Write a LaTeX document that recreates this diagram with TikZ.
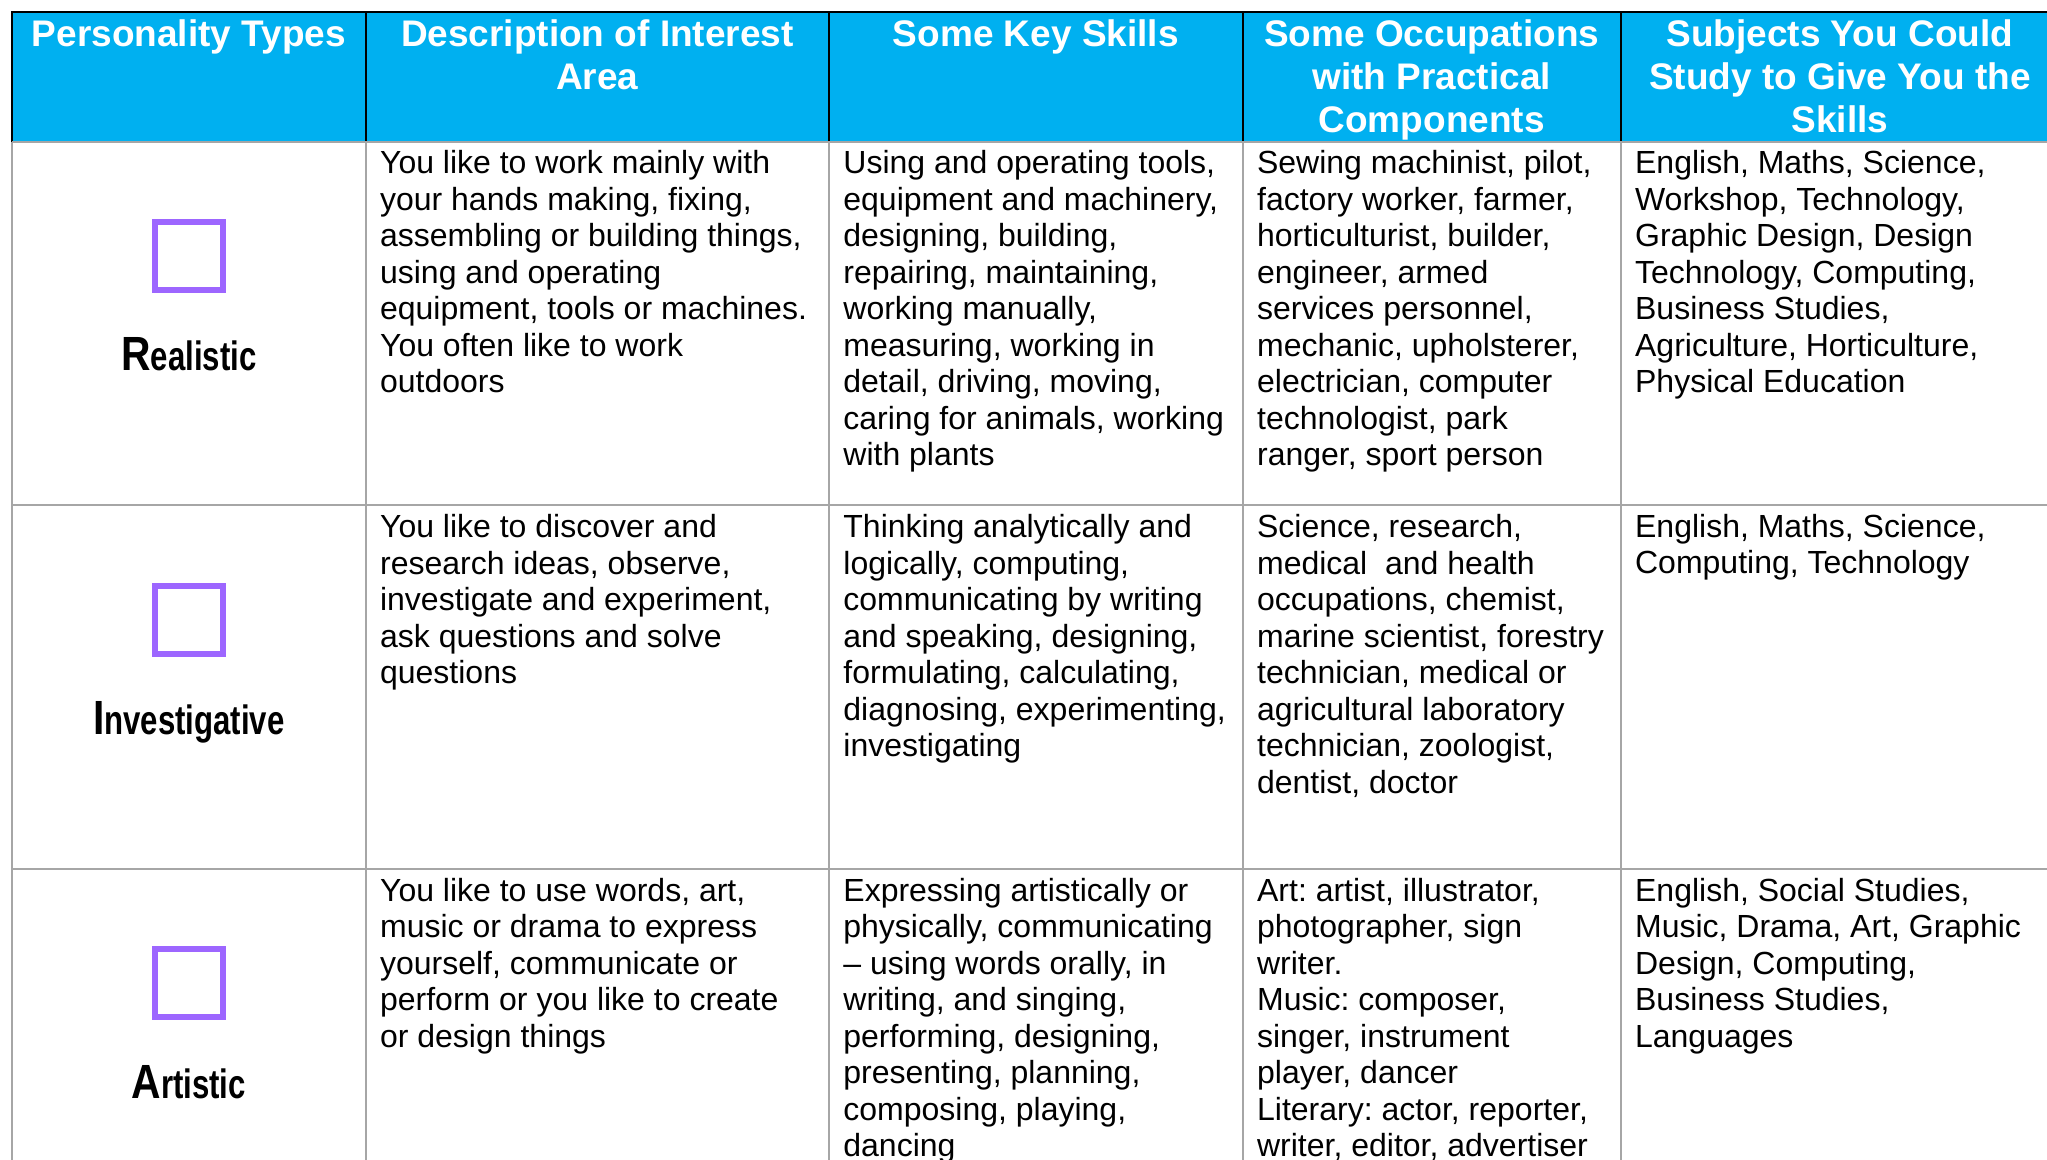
\documentclass[tikz,border=0pt]{standalone}
\usepackage{fontspec}
\usepackage{graphicx}
\setmainfont{Liberation Sans}
\frenchspacing

\definecolor{headblue}{RGB}{0,176,240}
\definecolor{boxpurple}{RGB}{157,102,255}
\definecolor{rulegray}{RGB}{166,166,166}

% struts fixing the first baseline of a cell
\newcommand{\hstrut}{\rule{0pt}{14.8pt}}
\newcommand{\bstrut}{\rule{0pt}{12.8pt}}
% big first letter of a personality type
\newcommand{\bigfirst}[2]{\bfseries\scalebox{0.85}[1]{\fontsize{24}{28}\selectfont #1}\scalebox{0.76}[1]{\fontsize{20.5}{24}\selectfont #2}}

\tikzset{
    headtext/.style={font=\bfseries\fontsize{18.5}{21.5}\selectfont, text=white, align=center, anchor=north, inner sep=0pt},
    celltext/.style={font=\fontsize{16}{18.25}\selectfont, align=left, anchor=north west, inner sep=0pt},
    typelabel/.style={anchor=base, inner sep=0pt},
    tickbox/.style={draw=boxpurple, line width=3pt, minimum width=34pt, minimum height=34pt, inner sep=0pt},
    headrule/.style={black, line width=1pt},
    bodyrule/.style={rulegray, line width=1pt}
}

\begin{document}
\begin{tikzpicture}[x=0.5pt,y=-0.5pt]
    % Page frame (pixels of the reference)
    \useasboundingbox (0,0) rectangle (2047,1160);
    \clip (0,0) rectangle (2047,1160);

    % Define column and row positions
    \def\colA{12} \def\colB{365.7} \def\colC{829} \def\colD{1242.7} \def\colE{1620.7} \def\colF{2059}
    \def\rowA{12} \def\rowB{141.7} \def\rowC{505.5} \def\rowD{869}

    % Header band
    \fill[headblue] (\colA,\rowA) rectangle (\colF,\rowB);
    \draw[headrule] (\colA,\rowB) -- (\colA,\rowA) -- (\colF,\rowA);
    \foreach \x in {\colB,\colC,\colD,\colE}
        \draw[headrule] (\x,\rowA) -- (\x,\rowB);

    % Body grid
    \foreach \x in {\colA,\colB,\colC,\colD,\colE}
        \draw[bodyrule] (\x,\rowB) -- (\x,1170);
    \foreach \y in {\rowB,\rowC,\rowD}
        \draw[bodyrule] (\colA,\y) -- (\colF,\y);

    % Header texts
    \node[headtext] (hdtype) at ({(\colA+\colB)/2},16.9) {\hstrut Personality Types};
    \node[headtext] (hddesc) at ({(\colB+\colC)/2},16.9) {\hstrut Description of Interest\\Area};
    \node[headtext] (hdskill) at ({(\colC+\colD)/2},16.9) {\hstrut Some Key Skills};
    \node[headtext] (hdjob) at ({(\colD+\colE)/2},16.9) {\hstrut Some Occupations\\with Practical\\Components};
    \node[headtext] (hdsubj) at ({(\colE+\colF)/2},16.9) {\hstrut Subjects You Could\\Study to Give You the\\Skills};

    % Tick boxes and type names
    \foreach \first/\rest/\top [count=\i] in {R/ealistic/\rowB, I/nvestigative/\rowC, A/rtistic/\rowD} {
        \node[tickbox] (box\i) at (189,\top+114.2) {};
        \node[typelabel] (type\i) at (188.8,\top+229) {\bigfirst{\first}{\rest}};
    }

    % Realistic row
    \node[celltext] (desc1) at (\colB+14,\rowB+6) {\bstrut You like to work mainly with\\your hands making, fixing,\\assembling or building things,\\using and operating\\equipment, tools or machines.\\You often like to work\\outdoors};
    \node[celltext] (skill1) at (\colC+14,\rowB+6) {\bstrut Using and operating tools,\\equipment and machinery,\\designing, building,\\repairing, maintaining,\\working manually,\\measuring, working in\\detail, driving, moving,\\caring for animals, working\\with plants};
    \node[celltext] (job1) at (\colD+14,\rowB+6) {\bstrut Sewing machinist, pilot,\\factory worker, farmer,\\horticulturist, builder,\\engineer, armed\\services personnel,\\mechanic, upholsterer,\\electrician, computer\\technologist, park\\ranger, sport person};
    \node[celltext] (subj1) at (\colE+14,\rowB+6) {\bstrut English, Maths, Science,\\Workshop, Technology,\\Graphic Design, Design\\Technology, Computing,\\Business Studies,\\Agriculture, Horticulture,\\Physical Education};

    % Investigative row
    \node[celltext] (desc2) at (\colB+14,\rowC+6) {\bstrut You like to discover and\\research ideas, observe,\\investigate and experiment,\\ask questions and solve\\questions};
    \node[celltext] (skill2) at (\colC+14,\rowC+6) {\bstrut Thinking analytically and\\logically, computing,\\communicating by writing\\and speaking, designing,\\formulating, calculating,\\diagnosing, experimenting,\\investigating};
    \node[celltext] (job2) at (\colD+14,\rowC+6) {\bstrut Science, research,\\medical~ and health\\occupations, chemist,\\marine scientist, forestry\\technician, medical or\\agricultural laboratory\\technician, zoologist,\\dentist, doctor};
    \node[celltext] (subj2) at (\colE+14,\rowC+6) {\bstrut English, Maths, Science,\\Computing, Technology};

    % Artistic row
    \node[celltext] (desc3) at (\colB+14,\rowD+6) {\bstrut You like to use words, art,\\music or drama to express\\yourself, communicate or\\perform or you like to create\\or design things};
    \node[celltext] (skill3) at (\colC+14,\rowD+6) {\bstrut Expressing artistically or\\physically, communicating\\– using words orally, in\\writing, and singing,\\performing, designing,\\presenting, planning,\\composing, playing,\\dancing};
    \node[celltext] (job3) at (\colD+14,\rowD+6) {\bstrut Art: artist, illustrator,\\photographer, sign\\writer.\\Music: composer,\\singer, instrument\\player, dancer\\Literary: actor, reporter,\\writer, editor, advertiser};
    \node[celltext] (subj3) at (\colE+14,\rowD+6) {\bstrut English, Social Studies,\\Music, Drama, Art, Graphic\\Design, Computing,\\Business Studies,\\Languages};

\end{tikzpicture}
\end{document}
